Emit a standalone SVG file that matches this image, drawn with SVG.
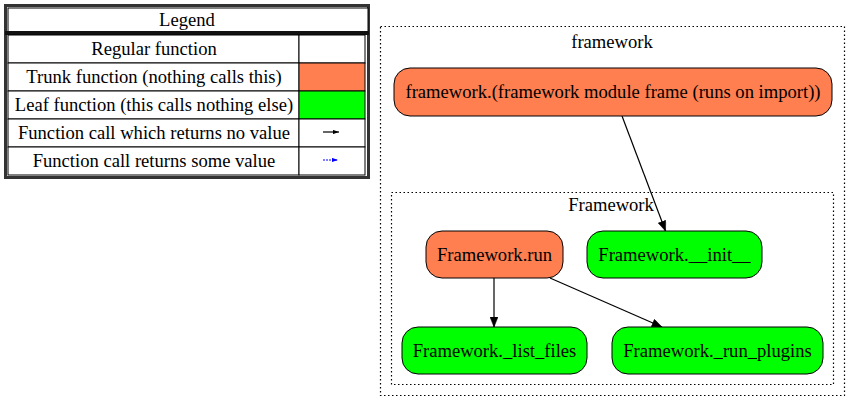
<svg xmlns="http://www.w3.org/2000/svg" width="860" height="412" viewBox="0 0 860 412">
<style>
text{font-family:"Liberation Serif","Times New Roman",serif;font-size:18.6px;fill:#000;text-anchor:middle;dominant-baseline:central}
.cell{fill:#fff;stroke:#000;stroke-width:1}
.cluster{fill:none;stroke:#000;stroke-width:1.2;stroke-dasharray:1.5 2.5}
.node{stroke:#000;stroke-width:1}
.trunk{fill:#ff7f50}
.leaf{fill:#00ff00}
.edge{stroke:#000;stroke-width:1.2;fill:none}
</style>
<defs>
<marker id="ah" viewBox="0 0 10 8" refX="10" refY="4" markerWidth="11" markerHeight="8" markerUnits="userSpaceOnUse" orient="auto">
<path d="M0,0 L10,4 L0,8 Z" fill="#000" stroke="#000" stroke-width="0.5"/>
</marker>
<marker id="ahs" viewBox="0 0 10 7" refX="10" refY="3.5" markerWidth="6" markerHeight="4.5" markerUnits="userSpaceOnUse" orient="auto">
<path d="M0,0 L10,3.5 L0,7 Z" fill="#000"/>
</marker>
<marker id="ahb" viewBox="0 0 10 7" refX="10" refY="3.5" markerWidth="6" markerHeight="5" markerUnits="userSpaceOnUse" orient="auto">
<path d="M0,0 L10,3.5 L0,7 Z" fill="#0000ff"/>
</marker>
</defs>
<rect width="860" height="412" fill="#fff"/>
<g id="legend">
<rect x="5.5" y="5.5" width="363" height="172" fill="#fff" stroke="#333" stroke-width="3"/>
<rect x="8" y="8" width="360" height="24" class="cell" stroke="none"/>
<text x="187" y="19.5">Legend</text>
<rect x="5" y="31" width="364" height="4" fill="#111"/>
<rect x="8" y="35" width="291" height="28" class="cell"/>
<rect x="299" y="35" width="66" height="28" class="cell"/>
<text x="154" y="48.5">Regular function</text>
<rect x="8" y="63" width="291" height="28" class="cell"/>
<rect x="299" y="63" width="66" height="28" class="cell trunk"/>
<text x="154" y="76.5">Trunk function (nothing calls this)</text>
<rect x="8" y="91" width="291" height="28" class="cell"/>
<rect x="299" y="91" width="66" height="28" class="cell leaf"/>
<text x="154" y="104.5">Leaf function (this calls nothing else)</text>
<rect x="8" y="119" width="291" height="28" class="cell"/>
<rect x="299" y="119" width="66" height="28" class="cell"/>
<text x="154" y="132.5">Function call which returns no value</text>
<line x1="323" y1="132" x2="339" y2="132" stroke="#000" stroke-width="1.2" marker-end="url(#ahs)"/>
<rect x="8" y="147" width="291" height="28" class="cell"/>
<rect x="299" y="147" width="66" height="28" class="cell"/>
<text x="154" y="160.5">Function call returns some value</text>
<line x1="323" y1="160" x2="338" y2="160" stroke="#0000ff" stroke-width="1" stroke-dasharray="2 1" marker-end="url(#ahb)"/>
</g>
<g id="cluster_framework">
<rect x="380.5" y="26.5" width="464" height="369" class="cluster"/>
<text x="612" y="41">framework</text>
</g>
<g id="cluster_Framework">
<rect x="391.5" y="192.5" width="442" height="192" class="cluster"/>
<text x="611" y="204">Framework</text>
</g>
<g id="connectors">
<line x1="622" y1="116" x2="665.5" y2="231" class="edge" marker-end="url(#ah)"/>
<line x1="494" y1="278" x2="494" y2="327" class="edge" marker-end="url(#ah)"/>
<line x1="550" y1="278" x2="662" y2="327" class="edge" marker-end="url(#ah)"/>
</g>
<g id="node_module">
<rect x="394" y="68" width="438" height="48" rx="16" class="node trunk"/>
<text x="613" y="91.5">framework.(framework module frame (runs on import))</text>
</g>
<g id="node_run">
<rect x="426" y="231" width="137" height="47" rx="16" class="node trunk"/>
<text x="494.5" y="254">Framework.run</text>
</g>
<g id="node_init">
<rect x="587" y="231" width="175" height="47" rx="16" class="node leaf"/>
<text x="674.5" y="254">Framework.__init__</text>
</g>
<g id="node_list_files">
<rect x="402" y="327" width="185" height="47" rx="16" class="node leaf"/>
<text x="494.5" y="350">Framework._list_files</text>
</g>
<g id="node_run_plugins">
<rect x="612" y="327" width="211" height="47" rx="16" class="node leaf"/>
<text x="717.5" y="350">Framework._run_plugins</text>
</g>
</svg>
